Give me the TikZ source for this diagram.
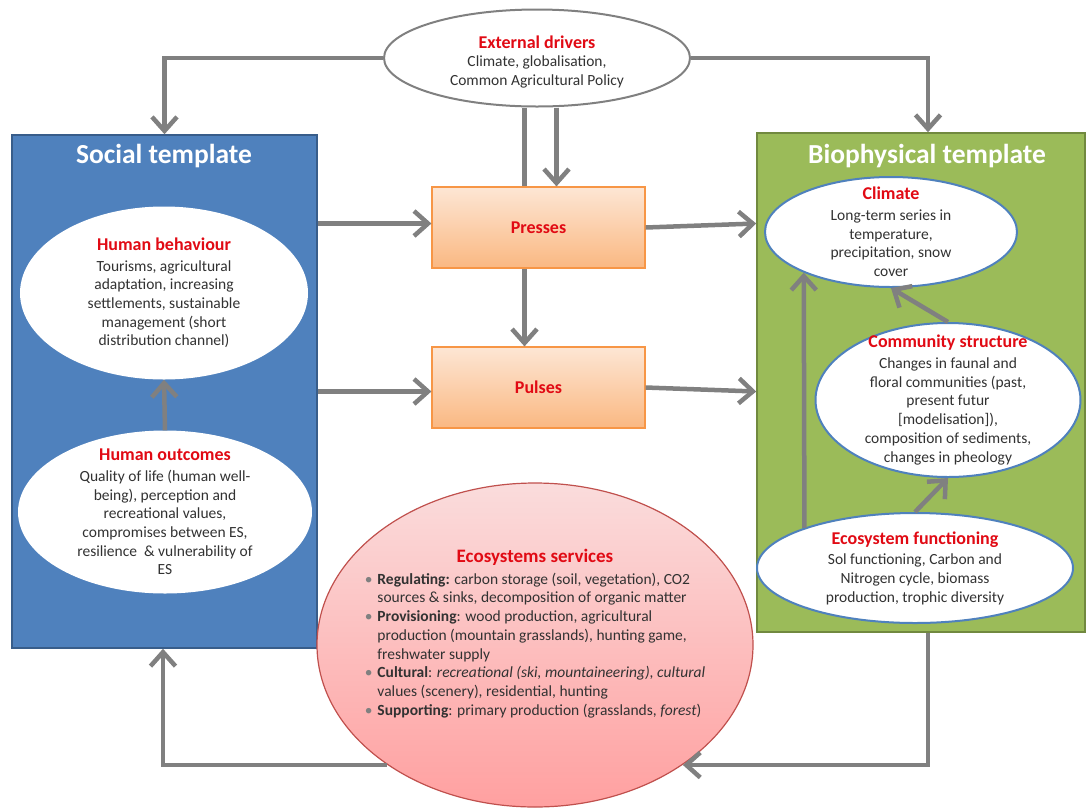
\documentclass[tikz,border=0pt]{standalone}
\usepackage{xcolor}
\usepackage{fontspec}
\setmainfont{Carlito}
\usepackage{tikz}
\usetikzlibrary{shapes,positioning}
\usetikzlibrary{calc}
\usetikzlibrary{arrows.meta}
\definecolor{bleu}{RGB}{79,129,189}
\definecolor{bleuF}{RGB}{56,93,138}
\definecolor{vert}{RGB}{155,187,89}
\definecolor{vertF}{RGB}{113,137,63}
\definecolor{gris}{RGB}{128,128,128}
\definecolor{rouge}{RGB}{225,10,20}
\definecolor{encre}{RGB}{50,50,50}
\definecolor{orangeF}{RGB}{247,150,70}
\definecolor{orangeH}{RGB}{253,230,212}
\definecolor{orangeB}{RGB}{250,184,130}
\definecolor{roseH}{RGB}{250,220,220}
\definecolor{roseB}{RGB}{255,160,160}
\definecolor{roseF}{RGB}{192,80,77}
\newcommand{\ftcorps}{\fontsize{15.5}{18.7}\selectfont}
\newcommand{\fttitre}{\fontsize{18}{21}\selectfont\bfseries}
\newcommand{\tete}[1]{{\fttitre\color{rouge}#1}}
\tikzset{
	fl/.style={draw=gris,line width=4.5pt,-{Straight Barb[length=14pt,width=25pt]}},
	tr/.style={draw=gris,line width=4.5pt},
	bulle/.style={ellipse,fill=white,inner sep=0pt},
	txt/.style={align=center,inner sep=0pt,text=encre,font=\ftcorps},
	cadre/.style={rectangle,inner sep=0pt,line width=1.5pt},
	boite/.style={rectangle,draw=orangeF,line width=1.2pt,top color=orangeH,bottom color=orangeB,
		minimum width=213pt,minimum height=81pt,text=rouge,font=\fttitre},
	gros/.style={text=white,inner sep=0pt,font=\fontsize{27.5}{32}\selectfont\bfseries}
}

\begin{document}
\begin{tikzpicture}[x=1pt,y=-1pt]
\useasboundingbox (0,0) rectangle (1088,807);

%Cadres
\node[cadre,draw=bleuF,fill=bleu,minimum width=305pt,minimum height=513pt] (soc) at (164.5,391.5) {};
\node[cadre,draw=vertF,fill=vert,minimum width=328pt,minimum height=499pt] (bio) at (921,382.5) {};
\node[gros] (socT) at (164,156) {Social template};
\node[gros] (bioT) at (927,156) {Biophysical template};

%Bulles sociales
\node[bulle,minimum width=288pt,minimum height=173pt] (hb) at (164,293) {};
\node[txt] (hbT) at (hb) {\tete{Human behaviour}\\[2pt]
	Tourisms, agricultural\\ adaptation, increasing\\ settlements, sustainable\\
	management (short\\ distribution channel)};
\node[bulle,minimum width=294pt,minimum height=163pt] (ho) at (165,512) {};
\node[txt] (hoT) at (ho) {\tete{Human outcomes}\\[2pt]
	Quality of life (human well-\\ being), perception and\\ recreational values,\\
	compromises between ES,\\ resilience \ \& vulnerability of\\ ES};

%Bulles biophysiques
\node[bulle,draw=bleu,line width=2pt,minimum width=252pt,minimum height=110pt] (cli) at (891,232) {};
\node[txt] (cliT) at (cli) {\tete{Climate}\\[2pt]
	Long-term series in\\ temperature,\\ precipitation, snow\\ cover};
\node[bulle,draw=bleu,line width=2pt,minimum width=265pt,minimum height=154pt] (com) at (948,400) {};
\node[txt] (comT) at (com) {\tete{Community structure}\\[2pt]
	Changes in faunal and\\ floral communities (past,\\ present futur\\
	{[}modelisation{]}),\\ composition of sediments,\\ changes in pheology};
\node[bulle,draw=bleu,line width=2pt,minimum width=316pt,minimum height=110pt] (eco) at (915,568) {};
\node[txt] (ecoT) at (eco) {\tete{Ecosystem functioning}\\[2pt]
	Sol functioning, Carbon and\\ Nitrogen cycle, biomass\\ production, trophic diversity};

%Moteurs externes
\node[bulle,draw=gris,line width=2pt,minimum width=306pt,minimum height=97pt] (ext) at (537,58) {};
\node[txt] (extT) at ([yshift=-4pt]ext.center) {\tete{External drivers}\\
	Climate, globalisation,\\ Common Agricultural Policy};

%Presses et pulses
\node[boite] (pre) at (538.5,227.5) {Presses};
\node[boite] (pul) at (538.5,387.5) {Pulses};

%Fleches du haut
\draw[fl] (ext.west) -| (soc.north);
\draw[fl] (ext.east) -| ([xshift=7pt]bio.north);
\draw[tr] ([xshift=-14pt]pre.north |- ext.south) -- ([xshift=-14pt]pre.north);
\draw[fl] ([xshift=18pt]pre.north |- ext.south) -- ([xshift=18pt]pre.north);
\draw[fl] ([xshift=-14pt]pre.south) -- ([xshift=-14pt]pul.north);

\foreach \n/\s in {pre/4pt,pul/-4pt}{
	\draw[fl] ([yshift=\s]\n.west -| soc.east) -- ([yshift=\s]\n.west);
	\draw[fl] (\n.east) -- ([yshift=\s]\n.east -| bio.west);
}

%Fleches internes
\draw[fl] (ho.north) -- (hb.south);
\draw[fl] (eco.160) -- (cli.205);
\draw[fl] (eco.north) -- (com.south);
\draw[fl] (com.north) -- (cli.south);

%Services
\coordinate (bg) at (163,765);
\coordinate (bd) at (928,765);
\node[bulle,draw=roseF,line width=1.2pt,top color=roseH,bottom color=roseB,
	minimum width=436pt,minimum height=324pt] (es) at (535,645) {};
\draw[fl] (es.-141 |- bg) -- (bg) -- (soc.south -| bg);
\draw[fl] (bio.south -| bd) -- (bd) -- (es.-39 |- bd);
\node[txt,align=left] (esT) at ([yshift=10pt]es.center) {%
	\begin{tabular}{@{}l@{\hspace{5pt}}l@{}}
	\multicolumn{2}{c}{\fontsize{19}{22}\selectfont\bfseries\color{rouge}Ecosystems services}\\[3pt]
	{\color{gris}\textbullet} & \textbf{Regulating:} carbon storage (soil, vegetation), CO2\\
	& sources \& sinks, decomposition of organic matter\\
	{\color{gris}\textbullet} & \textbf{Provisioning}: wood production, agricultural\\
	& production (mountain grasslands), hunting game,\\
	& freshwater supply\\
	{\color{gris}\textbullet} & \textbf{Cultural}: \textit{recreational (ski, mountaineering), cultural}\\
	& values (scenery), residential, hunting\\
	{\color{gris}\textbullet} & \textbf{Supporting}: primary production (grasslands, \textit{forest})
	\end{tabular}};

\end{tikzpicture}
\end{document}
